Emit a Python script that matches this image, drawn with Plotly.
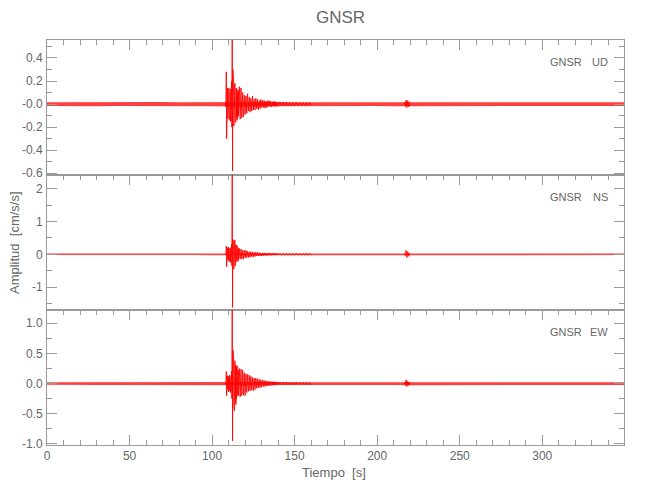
import numpy as np
import plotly.graph_objects as go
from plotly.subplots import make_subplots

# ---------------- data ----------------
STATION = "GNSR"
COMPONENTS = ["UD", "NS", "EW"]
X_RANGE = [0, 349.5]
Y_RANGES = [[-0.615, 0.556], [-1.70, 2.42], [-1.02, 1.22]]
Y_TICKVALS = [[-0.6, -0.4, -0.2, 0.0, 0.2, 0.4], [-1, 0, 1, 2], [-1.0, -0.5, 0.0, 0.5, 1.0]]
Y_TICKTEXT = [["-0.6", "-0.4", "-0.2", "-0.0", "0.2", "0.4"], ["-1", "0", "1", "2"],
              ["-1.0", "-0.5", "0.0", "0.5", "1.0"]]
Y_MINOR = [[-0.5, -0.3, -0.1, 0.1, 0.3, 0.5], [-1.5, -0.5, 0.5, 1.5], [-0.75, -0.25, 0.25, 0.75]]

# background noise envelope (half width), sampled every 10 s
NOISE_T = list(range(0, 360, 10))
NOISE_UD = [0.016, 0.017, 0.016, 0.018, 0.017, 0.016, 0.017, 0.018, 0.016, 0.017,
            0.018, 0.020, 0.022, 0.020, 0.018, 0.017, 0.017, 0.016, 0.017, 0.018,
            0.017, 0.018, 0.022, 0.018, 0.017, 0.016, 0.017, 0.018, 0.017, 0.016,
            0.017, 0.018, 0.017, 0.017, 0.018, 0.017]
NOISE_NS = [0.024, 0.025, 0.024, 0.026, 0.025, 0.024, 0.025, 0.026, 0.024, 0.025,
            0.026, 0.030, 0.032, 0.028, 0.026, 0.025, 0.025, 0.024, 0.025, 0.026,
            0.025, 0.026, 0.032, 0.026, 0.025, 0.024, 0.025, 0.026, 0.025, 0.024,
            0.025, 0.026, 0.025, 0.025, 0.026, 0.025]
NOISE_EW = [0.022, 0.023, 0.022, 0.024, 0.023, 0.022, 0.023, 0.024, 0.022, 0.023,
            0.024, 0.028, 0.030, 0.026, 0.024, 0.023, 0.023, 0.022, 0.023, 0.024,
            0.023, 0.024, 0.028, 0.024, 0.023, 0.022, 0.023, 0.024, 0.023, 0.022,
            0.023, 0.024, 0.023, 0.023, 0.024, 0.023]

# sample times of the strong-motion part (dense near onset, coarser in the coda)
BURST_T = np.round(np.concatenate([np.arange(108.0, 116.01, 0.2),
                                   np.arange(116.5, 140.01, 0.5),
                                   np.arange(141.0, 160.01, 1.0)]), 2)

BURST_UD = [0.01, -0.02, 0.03, 0.28, -0.30, 0.12, -0.10, 0.14, -0.13, 0.10,
            -0.12, 0.14, -0.09, 0.11, -0.14, 0.13, -0.15, 0.09, -0.12, 0.20,
            -0.20, 0.56, -0.58, 0.30, -0.25, 0.20, -0.19, 0.15, -0.14, 0.18,
            -0.15, 0.13, -0.16, 0.14, -0.12, 0.13, -0.14, 0.10, -0.11, 0.12, -0.10,
            0.15, -0.13, 0.14, -0.12, 0.10, -0.11, 0.08, -0.09, 0.07, -0.08,
            0.09, -0.06, 0.06, -0.07, 0.05, -0.06, 0.07, -0.05, 0.04, -0.05,
            0.05, -0.04, 0.04, -0.05, 0.03, -0.04, 0.04, -0.03, 0.035, -0.03,
            0.03, -0.035, 0.025, -0.03, 0.03, -0.025, 0.03, -0.02, 0.025, -0.025,
            0.02, -0.02, 0.025, -0.02, 0.02, -0.02, 0.018, -0.02,
            0.018, -0.016, 0.017, -0.015, 0.016, -0.014, 0.015, -0.015, 0.014, -0.013,
            0.015, -0.012, 0.013, -0.014, 0.012, -0.013, 0.012, -0.012, 0.013, -0.012]

BURST_NS = [0.01, -0.02, 0.03, 0.25, -0.38, 0.15, -0.18, 0.20, -0.15, 0.22,
            -0.20, 0.18, -0.22, 0.15, -0.17, 0.20, -0.25, 0.28, -0.20, 0.30,
            -0.35, 2.60, -1.62, 0.45, -0.50, 0.40, -0.45, 0.35, -0.30, 0.44,
            -0.35, 0.30, -0.28, 0.25, -0.22, 0.28, -0.20, 0.18, -0.22, 0.20, -0.16,
            0.18, -0.15, 0.16, -0.14, 0.13, -0.15, 0.12, -0.11, 0.12, -0.10,
            0.09, -0.10, 0.08, -0.09, 0.08, -0.07, 0.07, -0.08, 0.06, -0.07,
            0.06, -0.05, 0.06, -0.05, 0.05, -0.05, 0.04, -0.05, 0.04, -0.04,
            0.045, -0.035, 0.04, -0.04, 0.035, -0.03, 0.035, -0.03, 0.03, -0.03,
            0.03, -0.025, 0.03, -0.025, 0.025, -0.025, 0.025, -0.02,
            0.025, -0.022, 0.024, -0.02, 0.022, -0.021, 0.02, -0.022, 0.02, -0.018,
            0.02, -0.02, 0.018, -0.019, 0.02, -0.018, 0.018, -0.017, 0.018, -0.017]

BURST_EW = [0.01, -0.015, 0.02, 0.20, -0.20, 0.10, -0.12, 0.13, -0.10, 0.12,
            -0.14, 0.10, -0.12, 0.14, -0.10, 0.12, -0.15, 0.16, -0.12, 0.20,
            -0.25, 1.35, -0.95, 0.56, -0.55, 0.45, -0.40, 0.35, -0.45, 0.38,
            -0.30, 0.30, -0.35, 0.28, -0.25, 0.30, -0.22, 0.25, -0.20, 0.22, -0.20,
            0.25, -0.22, 0.24, -0.20, 0.22, -0.19, 0.18, -0.20, 0.16, -0.15,
            0.15, -0.13, 0.14, -0.12, 0.12, -0.11, 0.10, -0.12, 0.09, -0.10,
            0.09, -0.08, 0.08, -0.07, 0.07, -0.07, 0.06, -0.06, 0.06, -0.05,
            0.05, -0.05, 0.045, -0.04, 0.04, -0.04, 0.035, -0.035, 0.035, -0.03,
            0.03, -0.03, 0.03, -0.028, 0.028, -0.025, 0.025, -0.025,
            0.025, -0.024, 0.023, -0.025, 0.022, -0.022, 0.024, -0.021, 0.022, -0.02,
            0.021, -0.022, 0.02, -0.02, 0.021, -0.019, 0.02, -0.02, 0.019, -0.02]

# small late arrival around 218 s
BLIP_T = [216.5, 217.0, 217.5, 218.0, 218.5, 219.0, 219.5, 220.0]
BLIP_UD = [0.015, -0.02, 0.035, -0.03, 0.03, -0.025, 0.02, -0.015]
BLIP_NS = [0.02, -0.04, 0.12, -0.10, 0.08, -0.06, 0.03, -0.02]
BLIP_EW = [0.02, -0.03, 0.06, -0.05, 0.04, -0.03, 0.025, -0.02]

NOISE = [NOISE_UD, NOISE_NS, NOISE_EW]
BURST = [BURST_UD, BURST_NS, BURST_EW]
BLIP = [BLIP_UD, BLIP_NS, BLIP_EW]

# ---------------- style ----------------
FONT = "Liberation Sans, Arial, sans-serif"
TXT = "#666666"
AX = "#999999"
RED = "#ff0000"

# the page body has an 8 px margin; the figure is sized/offset to compensate
OFF = 8
W, H = 650 - 2 * OFF, 500 - 2 * OFF
L, T = 47 - OFF, 40 - OFF
R = W - (624 - OFF)
B = H - (445 - OFF)
PW = W - L - R
PH = H - T - B


def px_x(px):
    """window pixel x -> paper x"""
    return (px - OFF - L) / PW


def px_y(py):
    """window pixel y -> paper y"""
    return (H - B - (py - OFF)) / PH


fig = make_subplots(rows=3, cols=1, shared_xaxes=True, vertical_spacing=0)

for i in range(3):
    row = i + 1
    half = np.array(NOISE[i])
    xs = list(NOISE_T) + list(NOISE_T[::-1])
    ys = list(half) + list(-half[::-1])
    fig.add_trace(go.Scatter(x=xs, y=ys, mode="lines", fill="toself",
                             fillcolor="rgba(255,0,0,0.75)", line=dict(width=0),
                             hoverinfo="skip", showlegend=False), row=row, col=1)
    fig.add_trace(go.Scatter(x=BURST_T, y=BURST[i], mode="lines",
                             line=dict(color=RED, width=0.9), showlegend=False), row=row, col=1)
    fig.add_trace(go.Scatter(x=BLIP_T, y=BLIP[i], mode="lines",
                             line=dict(color=RED, width=0.9), showlegend=False), row=row, col=1)

    xa = dict(range=X_RANGE, showgrid=False, zeroline=False, showline=True, linecolor=AX,
              linewidth=1, ticks="inside", ticklen=10, tickcolor=AX, tickwidth=1,
              tickmode="linear", tick0=0, dtick=50,
              minor=dict(ticks="inside", ticklen=5, tickcolor=AX, dtick=10, tick0=0),
              tickfont=dict(family=FONT, size=12, color=TXT))
    if row < 3:
        xa.update(side="top", mirror=True, showticklabels=False)
    else:
        xa.update(side="bottom", mirror="ticks", showticklabels=True)
    fig.update_xaxes(row=row, col=1, **xa)

    fig.update_yaxes(row=row, col=1, range=Y_RANGES[i], showgrid=False, zeroline=False,
                     showline=True, linecolor=AX, linewidth=1, mirror="ticks",
                     ticks="inside", ticklen=10, tickcolor=AX, tickwidth=1,
                     tickmode="array", tickvals=Y_TICKVALS[i], ticktext=Y_TICKTEXT[i],
                     minor=dict(ticks="inside", ticklen=5, tickcolor=AX,
                                tickmode="array", tickvals=Y_MINOR[i]),
                     tickfont=dict(family=FONT, size=12, color=TXT), ticklabelstandoff=1)

annotations = []
ydom = ["y domain", "y2 domain", "y3 domain"]
for i, comp in enumerate(COMPONENTS):
    annotations.append(dict(text=STATION, xref="paper", yref=ydom[i], x=px_x(584), y=1 - 22 / 135,
                            xanchor="right", yanchor="middle", showarrow=False,
                            font=dict(family=FONT, size=11, color=TXT)))
    annotations.append(dict(text=comp, xref="paper", yref=ydom[i], x=px_x(610), y=1 - 22 / 135,
                            xanchor="right", yanchor="middle", showarrow=False,
                            font=dict(family=FONT, size=11, color=TXT)))

annotations.append(dict(text=STATION, xref="paper", yref="paper", x=px_x(340), y=px_y(17),
                        xanchor="center", yanchor="middle", showarrow=False,
                        font=dict(family=FONT, size=17, color=TXT)))
annotations.append(dict(text="Amplitud  [cm/s/s]", xref="paper", yref="paper", x=px_x(14),
                        y=px_y(243), xanchor="center", yanchor="middle", textangle=-90,
                        showarrow=False, font=dict(family=FONT, size=13, color=TXT)))
annotations.append(dict(text="Tiempo  [s]", xref="paper", yref="paper", x=px_x(334),
                        y=px_y(472), xanchor="center", yanchor="middle",
                        showarrow=False, font=dict(family=FONT, size=13, color=TXT)))

fig.update_layout(width=W, height=H, margin=dict(l=L, r=R, t=T, b=B, autoexpand=False),
                  paper_bgcolor="white", plot_bgcolor="white", showlegend=False,
                  annotations=annotations)

fig.write_html("out.html")
